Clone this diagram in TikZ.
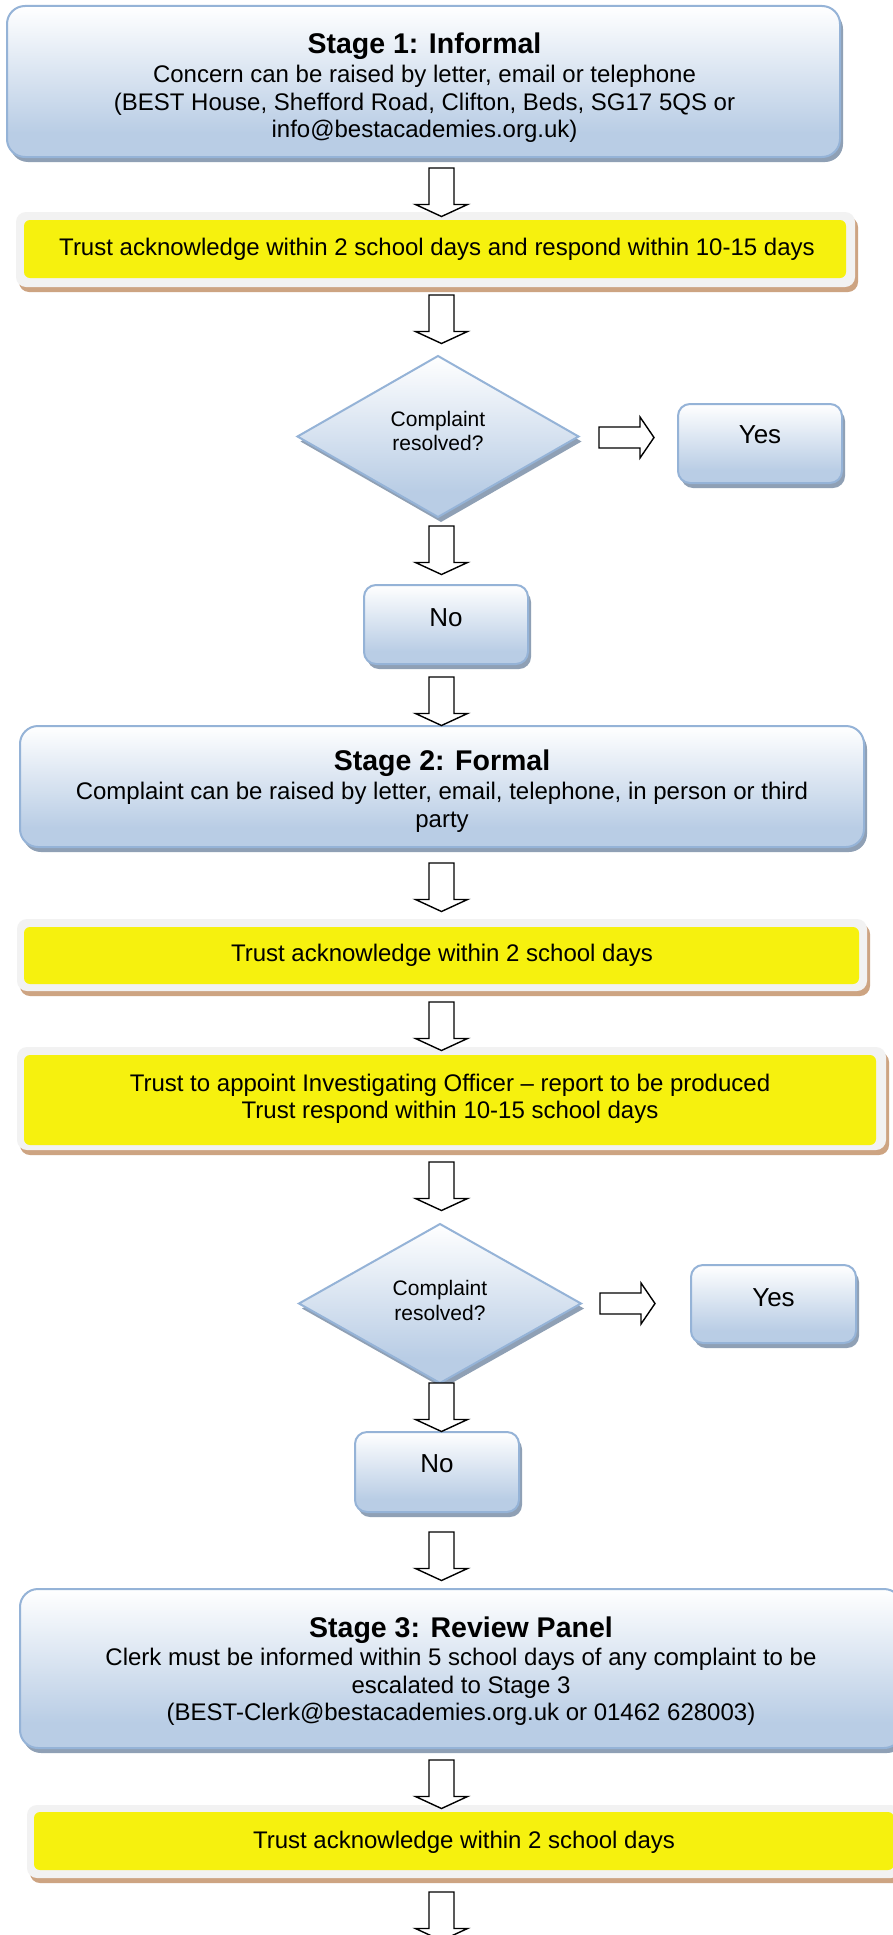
\documentclass[tikz,border=0pt]{standalone}
\usepackage{fontspec}
\setmainfont{Liberation Sans}
\usetikzlibrary{shadows,shapes.geometric}
\definecolor{bB}{RGB}{185,205,229}
\definecolor{bBorder}{RGB}{149,179,215}
\definecolor{bShadow}{RGB}{143,160,181}
\definecolor{yFill}{RGB}{246,241,14}
\definecolor{yFrame}{RGB}{242,242,242}
\definecolor{yShadow}{RGB}{205,164,130}
\pgfdeclareverticalshading{wordblue}{100bp}{color(0bp)=(bB); color(33bp)=(bB); color(75bp)=(white); color(100bp)=(white)}
\tikzset{
  bluebase/.style={draw=bBorder, line width=2pt, shading=wordblue, inner sep=0pt, outer sep=0pt,
    general shadow={fill=bShadow, shadow xshift=3pt, shadow yshift=-5pt}},
  stagebox/.style={bluebase, rounded corners=18pt},
  ynbox/.style={bluebase, rounded corners=12pt},
  decision/.style={bluebase, shape=diamond},
  yframe/.style={fill=yFrame, rounded corners=10pt, inner sep=0pt, outer sep=0pt,
    general shadow={fill=yShadow, shadow xshift=3pt, shadow yshift=-5pt}},
  yinner/.style={fill=yFill, rounded corners=6pt, inner sep=0pt, outer sep=0pt},
  titletxt/.style={font=\fontsize{28.5}{32}\selectfont\bfseries, anchor=base, inner sep=0pt},
  bodytxt/.style={font=\fontsize{24}{28}\selectfont, anchor=base, inner sep=0pt},
  dtxt/.style={font=\fontsize{21}{25}\selectfont, anchor=base, inner sep=0pt},
  yntxt/.style={font=\fontsize{26}{30}\selectfont, anchor=base, inner sep=0pt},
  arrowline/.style={draw=black, line width=1.4pt, fill=white, line join=miter},
  downarrow/.pic={\path[arrowline] (-12.5,0) -- (12.5,0) -- (12.5,36.5) -- (26,36.5) -- (0,48.5) -- (-26,36.5) -- (-12.5,36.5) -- cycle;},
  rightarrow/.pic={\path[arrowline] (0,-10.5) -- (41,-10.5) -- (41,-20.5) -- (55,0) -- (41,20.5) -- (41,10.5) -- (0,10.5) -- cycle;}
}
\begin{document}
\begin{tikzpicture}[x=1pt,y=-1pt]
\useasboundingbox (0,0) rectangle (893,1935);
\clip (0,0) rectangle (893,1935);
\fill[white] (0,0) rectangle (893,1935);

% Stage 1
\node[stagebox, minimum width=833pt, minimum height=151pt] (s1) at (423.5,81.5) {};
\node[titletxt] (s1a) at (424.5,53.2) {Stage 1: Informal};
\node[bodytxt] (s1b) at (424.5,82.6) {Concern can be raised by letter, email or telephone};
\node[bodytxt] (s1c) at (424.5,110) {(BEST House, Shefford Road, Clifton, Beds, SG17 5QS or};
\node[bodytxt] (s1d) at (424.5,137) {info@bestacademies.org.uk)};

% Yellow 1
\node[yframe, minimum width=839pt, minimum height=75pt] (y1) at (435.5,249.5) {};
\node[yinner, minimum width=822pt, minimum height=58pt] (y1in) at (435,249) {};
\node[bodytxt] (y1t) at (437,255.6) {Trust acknowledge within 2 school days and respond within 10-15 days};

% Decision 1
\node[decision, minimum width=281pt, minimum height=161pt] (d1) at (438,436.5) {};
\node[dtxt] (d1a) at (438,426.5) {Complaint};
\node[dtxt] (d1b) at (438,450.5) {resolved?};
\node[ynbox, minimum width=164pt, minimum height=79pt] (yes1) at (760,443.5) {};
\node[yntxt] (yes1t) at (760,443.3) {Yes};
\node[ynbox, minimum width=164pt, minimum height=79pt] (no1) at (446,624.5) {};
\node[yntxt] (no1t) at (446,626.3) {No};

% Stage 2
\node[stagebox, minimum width=844pt, minimum height=121pt] (s2) at (442,786.5) {};
\node[titletxt] (s2a) at (442,770.2) {Stage 2: Formal};
\node[bodytxt] (s2b) at (442,799.6) {Complaint can be raised by letter, email, telephone, in person or third};
\node[bodytxt] (s2c) at (442,827.6) {party};

% Yellow 2
\node[yframe, minimum width=850pt, minimum height=72pt] (y2) at (442,955) {};
\node[yinner, minimum width=835pt, minimum height=57pt] (y2in) at (441.5,955.5) {};
\node[bodytxt] (y2t) at (442,961.6) {Trust acknowledge within 2 school days};

% Yellow 3
\node[yframe, minimum width=869pt, minimum height=103pt] (y3) at (451.5,1098.5) {};
\node[yinner, minimum width=852pt, minimum height=90pt] (y3in) at (450,1100) {};
\node[bodytxt] (y3a) at (450,1091.6) {Trust to appoint Investigating Officer – report to be produced};
\node[bodytxt] (y3b) at (450,1118.6) {Trust respond within 10-15 school days};

% Decision 2
\node[decision, minimum width=282pt, minimum height=159pt] (d2) at (440,1303.5) {};
\node[dtxt] (d2a) at (440,1295.5) {Complaint};
\node[dtxt] (d2b) at (440,1320.5) {resolved?};
\node[ynbox, minimum width=165pt, minimum height=78pt] (yes2) at (773.5,1304) {};
\node[yntxt] (yes2t) at (773.5,1306.3) {Yes};
\node[ynbox, minimum width=164pt, minimum height=80pt] (no2) at (437,1472) {};
\node[yntxt] (no2t) at (437,1472.3) {No};

% Stage 3
\node[stagebox, minimum width=882pt, minimum height=159pt] (s3) at (461,1668.5) {};
\node[titletxt] (s3a) at (461,1637.2) {Stage 3: Review Panel};
\node[bodytxt] (s3b) at (461,1665.6) {Clerk must be informed within 5 school days of any complaint to be};
\node[bodytxt] (s3c) at (461,1693.6) {escalated to Stage 3};
\node[bodytxt] (s3d) at (461,1720.6) {(BEST-Clerk@bestacademies.org.uk or 01462 628003)};

% Yellow 4
\node[yframe, minimum width=874pt, minimum height=73pt] (y4) at (464,1841.5) {};
\node[yinner, minimum width=860pt, minimum height=58pt] (y4in) at (464,1841) {};
\node[bodytxt] (y4t) at (464,1848.6) {Trust acknowledge within 2 school days};

% Block arrows
\foreach \ty in {168,295,526,677,863,1002,1162,1383,1532,1760,1892}
  \pic at (441.5,\ty) {downarrow};
\pic at (599,437.5) {rightarrow};
\pic at (600,1303.5) {rightarrow};
\end{tikzpicture}
\end{document}
